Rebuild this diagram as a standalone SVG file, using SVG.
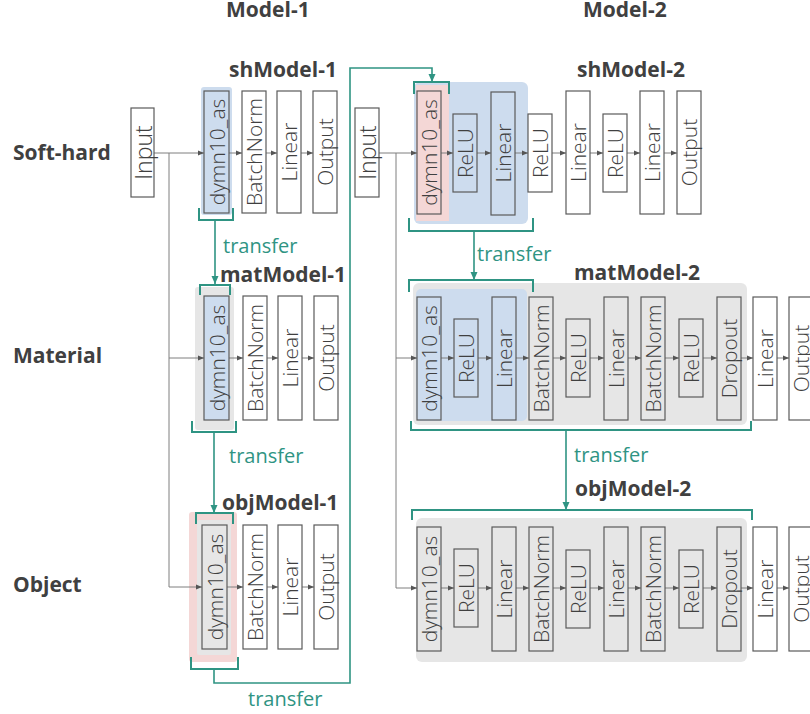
<svg xmlns="http://www.w3.org/2000/svg" width="810" height="714" viewBox="0 0 810 714">
<defs>
<style>
.box{fill:#fff;stroke:#5a5a5a;stroke-width:1.2}
.bx{fill:none;stroke:#5a5a5a;stroke-width:1.2}
.bb{fill:#cddcee;stroke:#5a5a5a;stroke-width:1.2}
.bg{fill:#e6e6e6;stroke:#5a5a5a;stroke-width:1.2}
.hb{fill:#cddcee}
.hg{fill:#e6e6e6}
.hp{fill:#f4d7d6}
.t{font-family:"Open Sans","Noto Sans","Liberation Sans",sans-serif;font-size:21px;font-weight:300;fill:#404040;text-anchor:middle;dominant-baseline:central}
.ti{font-size:23px}
.h{font-family:"Open Sans","Noto Sans","Liberation Sans",sans-serif;font-size:21px;font-weight:700;fill:#404040}
.tr{font-family:"Open Sans","Noto Sans","Liberation Sans",sans-serif;font-size:20px;font-weight:400;fill:#2f9483}
.ln{fill:none;stroke:#7f7f7f;stroke-width:1}
.tl{fill:none;stroke:#2f9483;stroke-width:1.6}
.br{fill:none;stroke:#2f9483;stroke-width:2}
</style>
<marker id="a" viewBox="0 0 6 6" refX="6" refY="3" markerWidth="6" markerHeight="6" orient="auto" markerUnits="userSpaceOnUse"><path d="M0,0.5 L6,3 L0,5.5 z" fill="#555"/></marker>
<marker id="at" viewBox="0 0 8 8" refX="8" refY="4" markerWidth="8" markerHeight="8" orient="auto" markerUnits="userSpaceOnUse"><path d="M0,0.5 L8,4 L0,7.5 z" fill="#2f9483"/></marker>
</defs>

<g id="titles">
<text class="h" x="226" y="17">Model-1</text>
<text class="h" x="583" y="17">Model-2</text>
<text class="h" x="13" y="160">Soft-hard</text>
<text class="h" x="13" y="363">Material</text>
<text class="h" x="13" y="592">Object</text>
<text class="h" x="229" y="77">shModel-1</text>
<text class="h" x="220" y="282">matModel-1</text>
<text class="h" x="222" y="510">objModel-1</text>
<text class="h" x="577" y="77">shModel-2</text>
<text class="h" x="574" y="280">matModel-2</text>
<text class="h" x="575" y="496">objModel-2</text>
</g>

<g id="highlights">
<rect class="hb" x="201" y="87" width="31" height="128" rx="3"/>
<rect class="hg" x="195" y="287" width="39" height="143" rx="3"/>
<rect class="hp" x="189" y="512" width="48" height="150" rx="3"/>
<rect class="hg" x="197" y="520" width="34" height="135" rx="2"/>
<rect class="hb" x="414" y="82" width="114" height="142" rx="6"/>
<rect class="hp" x="416" y="85" width="33" height="136"/>
<rect class="hg" x="413" y="283" width="334" height="142" rx="6"/>
<rect class="hb" x="416" y="289" width="111" height="132" rx="5"/>
<rect class="hg" x="416" y="518" width="331" height="144" rx="6"/>
</g>

<g id="connectors">
<path class="ln" d="M154,153 H204" marker-end="url(#a)"/>
<path class="ln" d="M169,153 V587"/>
<path class="ln" d="M169,358 H204" marker-end="url(#a)"/>
<path class="ln" d="M169,587 H202" marker-end="url(#a)"/>
<path class="ln" d="M229,153 H242" marker-end="url(#a)"/>
<path class="ln" d="M266,153 H277" marker-end="url(#a)"/>
<path class="ln" d="M301,153 H313" marker-end="url(#a)"/>
<path class="ln" d="M229,358 H243" marker-end="url(#a)"/>
<path class="ln" d="M267,358 H278" marker-end="url(#a)"/>
<path class="ln" d="M302,358 H314" marker-end="url(#a)"/>
<path class="ln" d="M227,587 H243" marker-end="url(#a)"/>
<path class="ln" d="M267,587 H278" marker-end="url(#a)"/>
<path class="ln" d="M302,587 H314" marker-end="url(#a)"/>
<path class="ln" d="M379,153 H417" marker-end="url(#a)"/>
<path class="ln" d="M396,153 V588"/>
<path class="ln" d="M396,358 H417" marker-end="url(#a)"/>
<path class="ln" d="M396,588 H417" marker-end="url(#a)"/>
<path class="ln" d="M441,153 H453" marker-end="url(#a)"/>
<path class="ln" d="M477,153 H491" marker-end="url(#a)"/>
<path class="ln" d="M515,153 H528" marker-end="url(#a)"/>
<path class="ln" d="M552,153 H566" marker-end="url(#a)"/>
<path class="ln" d="M590,153 H603" marker-end="url(#a)"/>
<path class="ln" d="M627,153 H640" marker-end="url(#a)"/>
<path class="ln" d="M664,153 H677" marker-end="url(#a)"/>
<path class="ln" d="M441,358 H454" marker-end="url(#a)"/>
<path class="ln" d="M478,358 H492" marker-end="url(#a)"/>
<path class="ln" d="M516,358 H529" marker-end="url(#a)"/>
<path class="ln" d="M553,358 H566" marker-end="url(#a)"/>
<path class="ln" d="M590,358 H604" marker-end="url(#a)"/>
<path class="ln" d="M628,358 H641" marker-end="url(#a)"/>
<path class="ln" d="M665,358 H679" marker-end="url(#a)"/>
<path class="ln" d="M703,358 H717" marker-end="url(#a)"/>
<path class="ln" d="M741,358 H753" marker-end="url(#a)"/>
<path class="ln" d="M777,358 H789" marker-end="url(#a)"/>
<path class="ln" d="M441,588 H454" marker-end="url(#a)"/>
<path class="ln" d="M478,588 H492" marker-end="url(#a)"/>
<path class="ln" d="M516,588 H529" marker-end="url(#a)"/>
<path class="ln" d="M553,588 H566" marker-end="url(#a)"/>
<path class="ln" d="M590,588 H604" marker-end="url(#a)"/>
<path class="ln" d="M628,588 H641" marker-end="url(#a)"/>
<path class="ln" d="M665,588 H679" marker-end="url(#a)"/>
<path class="ln" d="M703,588 H717" marker-end="url(#a)"/>
<path class="ln" d="M741,588 H753" marker-end="url(#a)"/>
<path class="ln" d="M777,588 H789" marker-end="url(#a)"/>
<path class="br" d="M199,208 V220 H233 V208"/>
<path class="tl" d="M215,220 V284" marker-end="url(#at)"/>
<path class="br" d="M200,295 V285 H230 V295"/>
<path class="br" d="M192,421 V432 H236 V421"/>
<path class="tl" d="M214,432 V513" marker-end="url(#at)"/>
<path class="br" d="M196,524 V513 H233 V524"/>
<path class="br" d="M191,657 V669 H238 V657"/>
<path class="tl" d="M214,669 V683 H350 V68 H432 V82" marker-end="url(#at)"/>
<path class="br" d="M414,94 V82 H449 V94"/>
<path class="br" d="M409,218 V231 H533 V218"/>
<path class="tl" d="M474,231 V280" marker-end="url(#at)"/>
<path class="br" d="M409,292 V280 H533 V292"/>
<path class="br" d="M411,421 V430 H751 V421"/>
<path class="tl" d="M566,430 V510" marker-end="url(#at)"/>
<path class="br" d="M412,520 V510 H752 V520"/>
<text class="tr" x="223" y="253">transfer</text>
<text class="tr" x="229" y="463">transfer</text>
<text class="tr" x="248" y="706">transfer</text>
<text class="tr" x="477" y="261">transfer</text>
<text class="tr" x="574" y="462">transfer</text>
</g>

<g id="m1-input"><rect class="box" x="131" y="108" width="23" height="89"/><text class="t ti" transform="translate(142.5,152.5) rotate(-90)">Input</text></g>
<g id="sh1-dymn"><rect class="bb" x="204" y="91" width="25" height="122"/><text class="t" transform="translate(216.5,152) rotate(-90)">dymn10_as</text></g>
<g id="sh1-bn"><rect class="box" x="242" y="91" width="24" height="122"/><text class="t" transform="translate(254,152) rotate(-90)">BatchNorm</text></g>
<g id="sh1-lin"><rect class="box" x="277" y="91" width="24" height="122"/><text class="t" transform="translate(289,152) rotate(-90)">Linear</text></g>
<g id="sh1-out"><rect class="box" x="313" y="91" width="24" height="122"/><text class="t" transform="translate(325,152) rotate(-90)">Output</text></g>

<g id="mat1-dymn"><rect class="bb" x="204" y="296" width="25" height="124"/><text class="t" transform="translate(216.5,358) rotate(-90)">dymn10_as</text></g>
<g id="mat1-bn"><rect class="box" x="243" y="296" width="24" height="124"/><text class="t" transform="translate(255,358) rotate(-90)">BatchNorm</text></g>
<g id="mat1-lin"><rect class="box" x="278" y="296" width="24" height="124"/><text class="t" transform="translate(290,358) rotate(-90)">Linear</text></g>
<g id="mat1-out"><rect class="box" x="314" y="296" width="24" height="124"/><text class="t" transform="translate(326,358) rotate(-90)">Output</text></g>

<g id="obj1-dymn"><rect class="bg" x="202" y="525" width="25" height="124"/><text class="t" transform="translate(214.5,587) rotate(-90)">dymn10_as</text></g>
<g id="obj1-bn"><rect class="box" x="243" y="525" width="24" height="124"/><text class="t" transform="translate(255,587) rotate(-90)">BatchNorm</text></g>
<g id="obj1-lin"><rect class="box" x="278" y="525" width="24" height="124"/><text class="t" transform="translate(290,587) rotate(-90)">Linear</text></g>
<g id="obj1-out"><rect class="box" x="314" y="525" width="24" height="124"/><text class="t" transform="translate(326,587) rotate(-90)">Output</text></g>

<g id="m2-input"><rect class="box" x="355" y="108" width="24" height="89"/><text class="t ti" transform="translate(367,152.5) rotate(-90)">Input</text></g>
<g id="sh2-dymn"><rect class="bx" x="417" y="91" width="24" height="123"/><text class="t" transform="translate(429,152.5) rotate(-90)">dymn10_as</text></g>
<g id="sh2-relu1"><rect class="bb" x="453" y="114" width="24" height="78"/><text class="t" transform="translate(465,153) rotate(-90)">ReLU</text></g>
<g id="sh2-lin1"><rect class="bb" x="491" y="92" width="24" height="123"/><text class="t" transform="translate(503,153) rotate(-90)">Linear</text></g>
<g id="sh2-relu2"><rect class="box" x="528" y="114" width="24" height="78"/><text class="t" transform="translate(540,153) rotate(-90)">ReLU</text></g>
<g id="sh2-lin2"><rect class="box" x="566" y="91" width="24" height="123"/><text class="t" transform="translate(578,152.5) rotate(-90)">Linear</text></g>
<g id="sh2-relu3"><rect class="box" x="603" y="114" width="24" height="78"/><text class="t" transform="translate(615,153) rotate(-90)">ReLU</text></g>
<g id="sh2-lin3"><rect class="box" x="640" y="91" width="24" height="123"/><text class="t" transform="translate(652,152.5) rotate(-90)">Linear</text></g>
<g id="sh2-out"><rect class="box" x="677" y="91" width="24" height="123"/><text class="t" transform="translate(689,152.5) rotate(-90)">Output</text></g>

<g id="mat2-dymn"><rect class="bb" x="417" y="297" width="24" height="123"/><text class="t" transform="translate(429,358.5) rotate(-90)">dymn10_as</text></g>
<g id="mat2-relu1"><rect class="bb" x="454" y="319" width="24" height="78"/><text class="t" transform="translate(466,358) rotate(-90)">ReLU</text></g>
<g id="mat2-lin1"><rect class="bb" x="492" y="297" width="24" height="123"/><text class="t" transform="translate(504,358.5) rotate(-90)">Linear</text></g>
<g id="mat2-bn1"><rect class="bg" x="529" y="297" width="24" height="123"/><text class="t" transform="translate(541,358.5) rotate(-90)">BatchNorm</text></g>
<g id="mat2-relu2"><rect class="bg" x="566" y="319" width="24" height="78"/><text class="t" transform="translate(578,358) rotate(-90)">ReLU</text></g>
<g id="mat2-lin2"><rect class="bg" x="604" y="297" width="24" height="123"/><text class="t" transform="translate(616,358.5) rotate(-90)">Linear</text></g>
<g id="mat2-bn2"><rect class="bg" x="641" y="297" width="24" height="123"/><text class="t" transform="translate(653,358.5) rotate(-90)">BatchNorm</text></g>
<g id="mat2-relu3"><rect class="bg" x="679" y="319" width="24" height="78"/><text class="t" transform="translate(691,358) rotate(-90)">ReLU</text></g>
<g id="mat2-drop"><rect class="bg" x="717" y="297" width="24" height="123"/><text class="t" transform="translate(729,358.5) rotate(-90)">Dropout</text></g>
<g id="mat2-lin3"><rect class="box" x="753" y="297" width="24" height="123"/><text class="t" transform="translate(765,358.5) rotate(-90)">Linear</text></g>
<g id="mat2-out"><rect class="box" x="789" y="297" width="24" height="123"/><text class="t" transform="translate(801,358.5) rotate(-90)">Output</text></g>

<g id="obj2-dymn"><rect class="bg" x="417" y="527" width="24" height="124"/><text class="t" transform="translate(429,589) rotate(-90)">dymn10_as</text></g>
<g id="obj2-relu1"><rect class="bg" x="454" y="549" width="24" height="78"/><text class="t" transform="translate(466,588) rotate(-90)">ReLU</text></g>
<g id="obj2-lin1"><rect class="bg" x="492" y="527" width="24" height="124"/><text class="t" transform="translate(504,589) rotate(-90)">Linear</text></g>
<g id="obj2-bn1"><rect class="bg" x="529" y="527" width="24" height="124"/><text class="t" transform="translate(541,589) rotate(-90)">BatchNorm</text></g>
<g id="obj2-relu2"><rect class="bg" x="566" y="550" width="24" height="78"/><text class="t" transform="translate(578,589) rotate(-90)">ReLU</text></g>
<g id="obj2-lin2"><rect class="bg" x="604" y="527" width="24" height="124"/><text class="t" transform="translate(616,589) rotate(-90)">Linear</text></g>
<g id="obj2-bn2"><rect class="bg" x="641" y="527" width="24" height="124"/><text class="t" transform="translate(653,589) rotate(-90)">BatchNorm</text></g>
<g id="obj2-relu3"><rect class="bg" x="679" y="550" width="24" height="78"/><text class="t" transform="translate(691,589) rotate(-90)">ReLU</text></g>
<g id="obj2-drop"><rect class="bg" x="717" y="527" width="24" height="124"/><text class="t" transform="translate(729,589) rotate(-90)">Dropout</text></g>
<g id="obj2-lin3"><rect class="box" x="753" y="527" width="24" height="124"/><text class="t" transform="translate(765,589) rotate(-90)">Linear</text></g>
<g id="obj2-out"><rect class="box" x="789" y="527" width="24" height="124"/><text class="t" transform="translate(801,589) rotate(-90)">Output</text></g>
</svg>
